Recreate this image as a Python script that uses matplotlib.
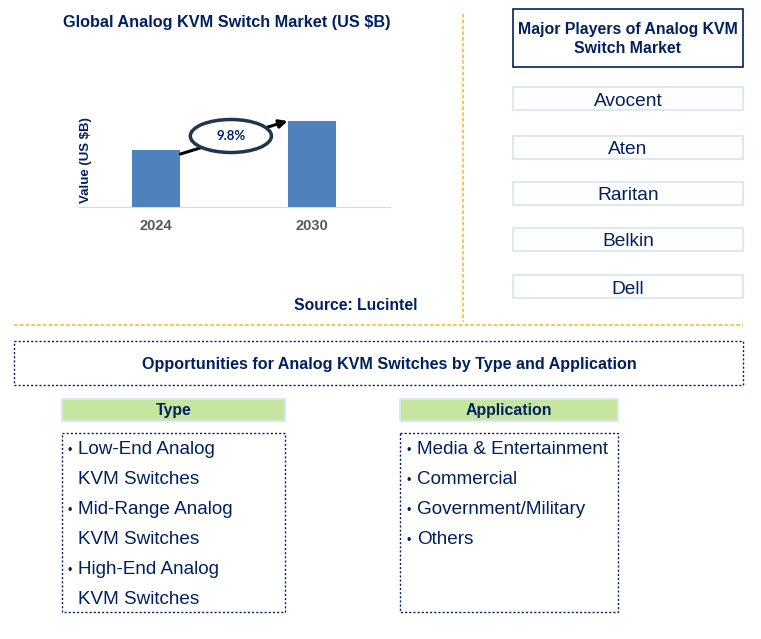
import matplotlib.pyplot as plt
from matplotlib.patches import Rectangle, Ellipse

plt.rcParams['font.family'] = ['Liberation Sans', 'DejaVu Sans']

years = ["2024", "2030"]
values = [0.57, 0.86]
cagr = "9.8%"
players = ["Avocent", "Aten", "Raritan", "Belkin", "Dell"]
types = ["Low-End Analog\nKVM Switches", "Mid-Range Analog\nKVM Switches",
         "High-End Analog\nKVM Switches"]
applications = ["Media & Entertainment", "Commercial", "Government/Military", "Others"]

navy = "#002060"
gold = "#F5C242"
W, H = 761, 639

fig = plt.figure(figsize=(W / 100, H / 100), dpi=100)

# layout layer in pixel coordinates
lay = fig.add_axes([0, 0, 1, 1])
lay.set_xlim(0, W)
lay.set_ylim(H, 0)
lay.axis("off")

# separators
lay.plot([463, 463], [14, 322], color=gold, lw=1.3, ls=(0, (2, 1.2)))
lay.plot([14, 743], [325, 325], color=gold, lw=1.3, ls=(0, (2, 1.2)))

# chart
ax = fig.add_axes([78 / W, 1 - 207 / H, 312 / W, 107 / H])
x = range(len(years))
bw = 0.314
ax.bar(x, values, width=bw, color="#4F81BD", zorder=2)
ax.set_xlim(-0.5, 1.5)
ax.set_ylim(0, 1.07)
ax.set_xticks(list(x))
ax.set_xticklabels(years, fontsize=10.5, fontweight="bold", color="#595959")
ax.tick_params(axis="x", length=0, pad=8.5)
ax.set_yticks([])
for s in ["top", "right", "left"]:
    ax.spines[s].set_visible(False)
ax.spines["bottom"].set_color("#D9D9D9")
ax.patch.set_visible(False)

ax.annotate("", xy=(1 - bw / 2, values[1]), xytext=(bw / 2, values[0] - 0.04),
            arrowprops=dict(arrowstyle="-|>", color="black", lw=2.2,
                            mutation_scale=12, shrinkA=0, shrinkB=0),
            annotation_clip=False, zorder=3)
ax.add_patch(Ellipse((0.48, 0.71), 0.52, 0.33, facecolor="white",
                     edgecolor="#1F3550", lw=2.5, zorder=4, clip_on=False))
ax.text(0.48, 0.71, cagr, ha="center", va="center", fontsize=9.5,
        fontweight="bold", color=navy, family=["Lato", "DejaVu Sans"], zorder=5)

fig.text(86 / W, 1 - 160 / H, "Value (US $B)", rotation=90, ha="center",
         va="center", fontsize=9.5, fontweight="bold", color=navy)
fig.text(227 / W, 1 - 22 / H, "Global Analog KVM Switch Market (US $B)",
         ha="center", va="center", fontsize=11.7, fontweight="bold", color=navy)
fig.text(418 / W, 1 - 305 / H, "Source: Lucintel", ha="right", va="center",
         fontsize=11.3, fontweight="bold", color=navy)

# major players
lay.add_patch(Rectangle((513, 9), 230, 58, fill=False, edgecolor=navy, lw=1.2))
lay.text(628, 39, "Major Players of Analog KVM\nSwitch Market", ha="center",
         va="center", fontsize=11.4, fontweight="bold", color=navy,
         linespacing=1.3)
box_tops = [87, 136, 182, 228, 275]
for name, top in zip(players, box_tops):
    lay.add_patch(Rectangle((513, top), 230, 23, fill=False,
                            edgecolor="#D6E8F5", lw=1.3))
    lay.text(628, top + 14, name, ha="center", va="center", fontsize=13.8,
             color=navy)

# opportunities
lay.add_patch(Rectangle((14, 341), 729, 44, fill=False, edgecolor=navy,
                        lw=1, ls=(0, (1.5, 1.5))))
lay.text(389, 364, "Opportunities for Analog KVM Switches by Type and Application",
         ha="center", va="center", fontsize=11.6, fontweight="bold", color=navy)

for left, wd, head in [(62, 223, "Type"), (400, 218, "Application")]:
    lay.add_patch(Rectangle((left, 399), wd, 22, facecolor="#C6E6A0",
                            edgecolor="#D6E8F5", lw=1.3))
    lay.text(left + wd / 2, 411, head, ha="center", va="center", fontsize=11.4,
             fontweight="bold", color=navy)
    lay.add_patch(Rectangle((left, 433), wd, 179, fill=False, edgecolor=navy,
                            lw=1, ls=(0, (1.5, 1.5))))

y0, step = 449, 30
row = 0
for item in types:
    for j, line in enumerate(item.split("\n")):
        if j == 0:
            lay.text(70, y0 + row * step + 2, "\u2022", ha="center", va="center",
                     fontsize=9, color=navy)
        lay.text(78, y0 + row * step, line, ha="left", va="center",
                 fontsize=13.6, color=navy)
        row += 1

for i, item in enumerate(applications):
    lay.text(409, y0 + i * step + 2, "\u2022", ha="center", va="center",
             fontsize=9, color=navy)
    lay.text(417, y0 + i * step, item, ha="left", va="center", fontsize=13.6,
             color=navy)

fig.savefig("out.png", dpi=100)
